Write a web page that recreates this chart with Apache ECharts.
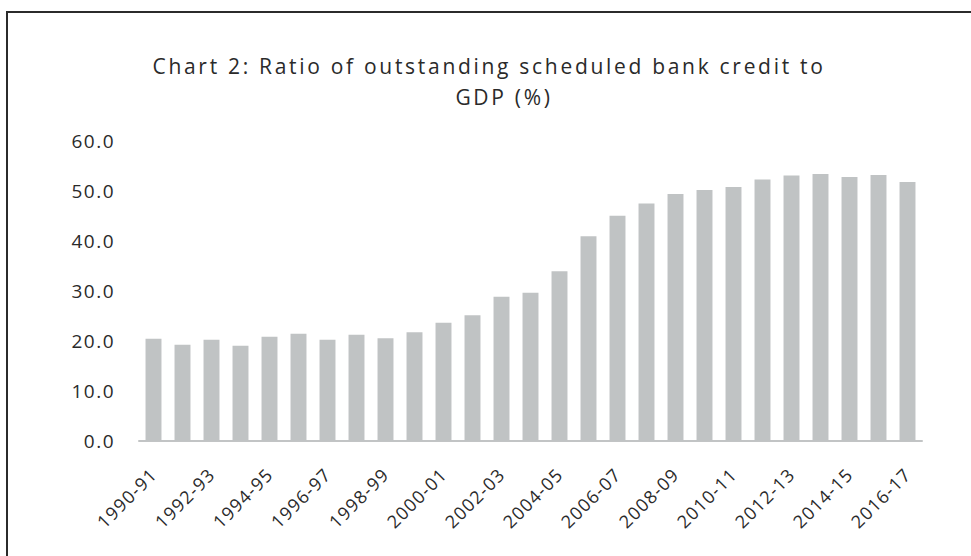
<!DOCTYPE html>
<html>
<head>
<meta charset="utf-8">
<title>Chart 2</title>
<script src="https://cdn.jsdelivr.net/npm/echarts@6/dist/echarts.min.js"></script>
<style>
  html, body { margin: 0; padding: 0; background: #fff; }
  #chart { width: 971px; height: 556px; }
</style>
</head>
<body>
<div id="chart"></div>
<script>
// Fiscal years on the category axis
const years = [
  '1990-91', '1991-92', '1992-93', '1993-94', '1994-95', '1995-96', '1996-97',
  '1997-98', '1998-99', '1999-00', '2000-01', '2001-02', '2002-03', '2003-04',
  '2004-05', '2005-06', '2006-07', '2007-08', '2008-09', '2009-10', '2010-11',
  '2011-12', '2012-13', '2013-14', '2014-15', '2015-16', '2016-17'
];

// Outstanding scheduled bank credit as a share of GDP (%)
const creditToGdp = [
  20.4, 19.2, 20.2, 19.0, 20.8, 21.4, 20.2,
  21.2, 20.5, 21.7, 23.6, 25.1, 28.8, 29.6,
  33.9, 40.9, 45.0, 47.4, 49.3, 50.1, 50.7,
  52.2, 53.0, 53.3, 52.7, 53.1, 51.7
];

// Value axis ticks
const yTicks = [0, 10, 20, 30, 40, 50, 60];

// Title, split over two lines
const titleLines = ['Chart 2: Ratio of outstanding scheduled bank credit to', 'GDP (%)'];

const FONT = 'Open Sans';
const TITLE_SIZE = 21;
const YLABEL_SIZE = 19;
const XLABEL_SIZE = 18;

const chart = echarts.init(document.getElementById('chart'), null, { renderer: 'svg' });

chart.setOption({
  backgroundColor: '#ffffff',
  animation: false,
  title: [{
    text: titleLines[0],
    left: 484,
    top: 50,
    textAlign: 'center',
    textStyle: { fontFamily: FONT, fontWeight: 'normal', fontSize: TITLE_SIZE, color: '#2a2a2a' }
  }, {
    text: titleLines[1],
    left: 499,
    top: 81,
    textAlign: 'center',
    textStyle: { fontFamily: FONT, fontWeight: 'normal', fontSize: TITLE_SIZE, color: '#2a2a2a' }
  }],
  graphic: [{
    type: 'rect',
    shape: { x: 7, y: 12, width: 980, height: 560 },
    style: { fill: 'none', stroke: '#2b2b2b', lineWidth: 2 },
    silent: true
  }],
  grid: {
    left: 139,
    right: 49,
    top: 140.5,
    bottom: 115,
    containLabel: false
  },
  xAxis: {
    type: 'category',
    data: years,
    boundaryGap: true,
    axisLine: { show: true, lineStyle: { color: '#c2c4c5', width: 2 } },
    axisTick: { show: false },
    axisLabel: {
      interval: 1,
      rotate: 45,
      margin: 30,
      color: '#2a2a2a',
      fontFamily: FONT,
      fontSize: XLABEL_SIZE
    }
  },
  yAxis: {
    type: 'value',
    min: yTicks[0],
    max: yTicks[yTicks.length - 1],
    interval: 10,
    axisLine: { show: false },
    axisTick: { show: false },
    splitLine: { show: false },
    axisLabel: {
      margin: 24,
      color: '#2a2a2a',
      fontFamily: FONT,
      fontSize: YLABEL_SIZE,
      formatter: v => v.toFixed(1)
    }
  },
  series: [{
    type: 'bar',
    data: creditToGdp,
    barWidth: '55%',
    itemStyle: { color: '#c0c3c4' }
  }]
});

// Open up the tracking of the drawn texts, by font size
const spacingBySize = { [TITLE_SIZE]: 2.7, [YLABEL_SIZE]: 1.5, [XLABEL_SIZE]: 1.2 };
function applyTracking() {
  document.querySelectorAll('#chart svg text').forEach(t => {
    const size = Math.round(parseFloat(getComputedStyle(t).fontSize));
    const s = spacingBySize[size];
    if (s) t.style.letterSpacing = s + 'px';
  });
}
chart.on('finished', applyTracking);
setTimeout(applyTracking, 0);
setTimeout(applyTracking, 100);
</script>
</body>
</html>
